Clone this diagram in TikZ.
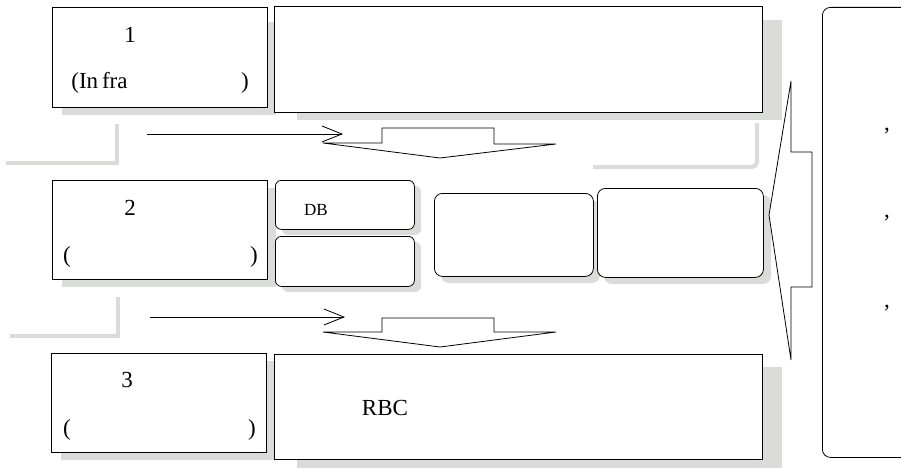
\documentclass[tikz,border=0pt]{standalone}
\usepackage{fontspec}
\setmainfont{Liberation Serif}
\usetikzlibrary{arrows.meta}
\definecolor{shadegray}{HTML}{D9DCD9}
\begin{document}
\begin{tikzpicture}[x=1pt,y=-1pt,inner sep=0pt,line width=0.8pt,
        box/.style={draw=black,fill=white,anchor=north west},
        rbox/.style={box,rounded corners=6pt},
        shade/.style={fill=shadegray,draw=none},
        bar/.style={draw=shadegray,line width=4pt},
        txt/.style={font=\fontsize{23}{25}\selectfont},
        small/.style={font=\fontsize{17}{19}\selectfont},
        flow/.style={-{Straight Barb[length=20pt,width=16pt]}}]
        \useasboundingbox (0,0) rectangle (901,468);
        % shadows
        \fill[shade] (62,22) rectangle (276,115);
        \fill[shade] (297,20) rectangle (782,120);
        \fill[shade] (62,188) rectangle (276,287);
        \fill[shade,rounded corners=6pt] (282,186) rectangle (421,235);
        \fill[shade,rounded corners=6pt] (282,242) rectangle (421,292);
        \fill[shade,rounded corners=8pt] (441,200) rectangle (600,283);
        \fill[shade,rounded corners=8pt] (604,195) rectangle (771,284);
        \fill[shade] (61,361) rectangle (276,460);
        \fill[shade] (297,367) rectangle (782,468);
        \draw[bar] (117,124) -- (117,163) -- (6,163);
        \draw[bar] (118,297) -- (118,336) -- (10,336);
        \draw[bar,rounded corners=5pt] (757,123) -- (757,167) -- (593,167);
        % level 1
        \node[box,minimum width=215pt,minimum height=100pt] (lev1) at (52,7) {};
        \node[txt] (num1) at (130,35) {1};
        \node[txt,anchor=west] (inf1) at (71,83) {(In\,fra};
        \node[txt] (par1) at (245,83) {)};
        \node[box,minimum width=488pt,minimum height=106pt] (top) at (274,6) {};
        % level 2
        \node[box,minimum width=215pt,minimum height=99pt] (lev2) at (52,180) {};
        \node[txt] (num2) at (130,208) {2};
        \node[txt] (lp2) at (67,257) {(};
        \node[txt] (rp2) at (254,257) {)};
        \node[rbox,minimum width=139pt,minimum height=49pt] (db) at (275,180) {};
        \node[small] at (316,210) {DB};
        \node[rbox,minimum width=139pt,minimum height=50pt] (dbb) at (275,236) {};
        \node[rbox,rounded corners=8pt,minimum width=159pt,minimum height=83pt] (mida) at (434,193) {};
        \node[rbox,rounded corners=8pt,minimum width=166pt,minimum height=89pt] (midb) at (597,188) {};
        % level 3
        \node[box,minimum width=215pt,minimum height=99pt] (lev3) at (51,353) {};
        \node[txt] (num3) at (127,380) {3};
        \node[txt] (lp3) at (67,430) {(};
        \node[txt] (rp3) at (252,430) {)};
        \node[box,minimum width=488pt,minimum height=105pt] (rbc) at (274,354) {};
        \node[txt] at (385,408) {RBC};
        % right side
        \node[rbox,rounded corners=8pt,minimum width=95pt,minimum height=450pt] (side) at (822,7) {};
        \node[txt] (ca) at (887,131) {,};
        \node[txt] (cb) at (887,218) {,};
        \node[txt] (cc) at (887,308) {,};
        % flow arrows
        \coordinate (s1) at (147,134);
        \coordinate (e1) at (343,134);
        \coordinate (s2) at (150,317);
        \coordinate (e2) at (345,317);
        \draw[flow] (s1) -- (e1);
        \draw[flow] (s2) -- (e2);
        \draw[fill=white] (382,128) -- (494,128) -- (494,144) -- (556,144) -- (440,158)
            -- (323,143) -- (382,143) -- cycle;
        \draw[fill=white] (382,318) -- (494,318) -- (494,332) -- (556,332) -- (440,347)
            -- (323,332) -- (382,332) -- cycle;
        \draw[fill=white] (791,81) -- (791,152) -- (812,152) -- (812,287) -- (791,287)
            -- (791,360) -- (769,215) -- cycle;
\end{tikzpicture}
\end{document}
